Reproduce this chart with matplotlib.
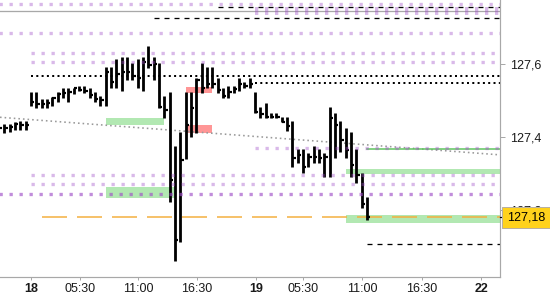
import matplotlib
matplotlib.use("Agg")
import matplotlib.pyplot as plt
import matplotlib.transforms as mtransforms
import numpy as np

plt.rcParams['font.family'] = ['Liberation Sans', 'DejaVu Sans']
plt.rcParams['lines.scale_dashes'] = False

# ---------------- data ----------------
# bar index (30-min slots), high / low / close
bar_idx = list(range(70))
highs = [127.441, 127.436, 127.436, 127.441, 127.444, 127.444,
         127.523, 127.523, 127.504, 127.504, 127.510, 127.523, 127.534, 127.534,
         127.534, 127.540, 127.540, 127.534, 127.523, 127.512, 127.592, 127.592,
         127.614, 127.619, 127.619, 127.603, 127.614, 127.619, 127.649, 127.619,
         127.603, 127.512, 127.523, 127.375, 127.414, 127.523, 127.523, 127.562,
         127.603, 127.592, 127.592, 127.562, 127.534, 127.540, 127.540, 127.562,
         127.551, 127.562, 127.523, 127.482, 127.493, 127.466, 127.466, 127.455,
         127.455, 127.444, 127.367, 127.367, 127.356, 127.375, 127.367, 127.356,
         127.482, 127.466, 127.444, 127.425, 127.414, 127.367, 127.301, 127.236]
lows = [127.400, 127.411, 127.414, 127.419, 127.419, 127.419,
        127.485, 127.479, 127.479, 127.479, 127.485, 127.496, 127.507, 127.496,
        127.518, 127.526, 127.521, 127.507, 127.496, 127.485, 127.485, 127.534,
        127.534, 127.526, 127.556, 127.556, 127.534, 127.526, 127.589, 127.556,
        127.479, 127.452, 127.222, 127.060, 127.112, 127.340, 127.400, 127.411,
        127.521, 127.534, 127.534, 127.521, 127.507, 127.507, 127.521, 127.526,
        127.534, 127.534, 127.466, 127.452, 127.452, 127.452, 127.452, 127.441,
        127.416, 127.318, 127.329, 127.301, 127.318, 127.329, 127.329, 127.290,
        127.290, 127.342, 127.359, 127.342, 127.290, 127.274, 127.205, 127.173]
closes = [127.425, 127.425, 127.427, 127.436, 127.433, 127.433,
          127.496, 127.490, 127.490, 127.493, 127.507, 127.518, 127.521, 127.523,
          127.534, 127.529, 127.526, 127.515, 127.504, 127.501, 127.578, 127.551,
          127.573, 127.578, 127.578, 127.567, 127.562, 127.605, 127.597, 127.600,
          127.482, 127.474, 127.282, 127.118, 127.337, 127.433, 127.479, 127.556,
          127.534, 127.545, 127.545, 127.529, 127.512, 127.523, 127.532, 127.545,
          127.540, 127.545, 127.468, 127.463, 127.455, 127.455, 127.455, 127.441,
          127.430, 127.342, 127.351, 127.318, 127.345, 127.345, 127.342, 127.345,
          127.452, 127.433, 127.392, 127.364, 127.323, 127.296, 127.216, 127.180]

last_price = 127.18

# x-axis ticks (slot positions) and labels
tick_pos = [6.0, 15.2, 26.06, 37.13, 48.2, 57.0, 68.06, 79.3, 90.4]
tick_labels = ['18', '05:30', '11:00', '16:30', '19', '05:30', '11:00', '16:30', '22']
bold_labels = ['18', '19', '22']

y_ticks = [127.2, 127.4, 127.6]
y_tick_labels = ['127,2', '127,4', '127,6']

# horizontal levels: (value, start slot)
lav_levels = [127.764, 127.685, 127.630, 127.605, 127.370, 127.296, 127.271]
lav_starts = [0.0, 0.0, 6.0, 6.0, 48.0, 6.0, 6.0]
lav_ends = [94.0, 94.0, 93.0, 93.0, 94.0, 94.0, 93.0]
lav_thick_level = 127.744
lav_thick_start = 48.0
purple_level = 127.244
gray_level = 127.744

black_dash_levels = [127.756, 127.726, 127.107]
black_dash_starts = [41.0, 29.0, 69.0]
black_dot_levels = [127.567, 127.548]
black_dot_starts = [6.0, 48.0]

trend_x = [0.19, 93.94]
trend_y = [127.454, 127.351]

orange_level = 127.181
orange_start = 8.0

green_line_level = 127.367
green_line_start = 69.0

green_zone_x0 = [20.0, 20.0, 65.0, 65.0]
green_zone_x1 = [30.9, 33.0, 94.0, 94.0]
green_zone_lo = [127.433, 127.233, 127.299, 127.165]
green_zone_hi = [127.452, 127.263, 127.312, 127.186]

red_zone_x0 = [35.0, 35.0]
red_zone_x1 = [39.9, 39.9]
red_zone_lo = [127.521, 127.411]
red_zone_hi = [127.537, 127.433]

# ---------------- figure ----------------
PX = 0.72  # points per pixel at 100 dpi
fig = plt.figure(figsize=(5.5, 3.0), dpi=100)
ax = fig.add_axes([0, 23 / 300, 500 / 550, 277 / 300])
ax.set_xlim(0.19, 93.94)
ax.set_ylim(127.0164, 127.7753)
xmax = 94.0

# zones
for x0, x1, lo, hi in zip(green_zone_x0, green_zone_x1, green_zone_lo, green_zone_hi):
    ax.fill_between([x0, x1], [lo, lo], [hi, hi], color='#b2e8b2', lw=0, zorder=1)
for x0, x1, lo, hi in zip(red_zone_x0, red_zone_x1, red_zone_lo, red_zone_hi):
    ax.fill_between([x0, x1], [lo, lo], [hi, hi], color='#ff9696', lw=0, zorder=1)

# gray solid
ax.hlines(gray_level, 0, xmax, color='#a8a8a8', lw=1.3 * PX, zorder=2)

# trend
ax.plot(trend_x, trend_y, color='#999999', lw=1.6 * PX, dashes=(1.6 * PX, 3 * PX), zorder=2)

# orange dashed
ax.plot([orange_start, xmax], [orange_level] * 2, color='#f4ae3c', lw=1.5 * PX,
        dashes=(25 * PX, 10 * PX), zorder=2)

# green line
ax.plot([green_line_start, xmax], [green_line_level] * 2, color='#5cc45c', lw=1.5 * PX, zorder=2)

# black dashed
for lv, st in zip(black_dash_levels, black_dash_starts):
    ax.plot([st, xmax], [lv, lv], color='black', lw=1.3 * PX, dashes=(5 * PX, 5 * PX), zorder=2)
# black dotted
for lv, st in zip(black_dot_levels, black_dot_starts):
    ax.plot([st, xmax], [lv, lv], color='black', lw=2 * PX, dashes=(2 * PX, 3.3 * PX), zorder=2)

# bars (HLC)
ax.vlines(bar_idx, lows, highs, color='black', lw=2.8 * PX, zorder=3)
ax.hlines(closes, np.array(bar_idx), np.array(bar_idx) + 0.62, color='black', lw=2.2 * PX, zorder=3)

# lavender dotted levels (translucent, on top)
for lv, st, en in zip(lav_levels, lav_starts, lav_ends):
    ax.plot([st, en], [lv, lv], color='#a050c8', alpha=0.4, lw=3.3 * PX,
            dashes=(3.3 * PX, 6.7 * PX), dash_capstyle='butt', zorder=4)
ax.plot([lav_thick_start, xmax], [lav_thick_level] * 2, color='#a050c8', alpha=0.4, lw=8 * PX,
        dashes=(3.3 * PX, 6.7 * PX), dash_capstyle='butt', zorder=4)
ax.plot([0, xmax], [purple_level] * 2, color='#a050c8', alpha=0.65, lw=3.3 * PX,
        dashes=(3.3 * PX, 6.7 * PX), dash_capstyle='butt', zorder=4)

# axes styling
for s in ['left', 'top']:
    ax.spines[s].set_visible(False)
for s in ['right', 'bottom']:
    ax.spines[s].set_color('#a8a8a8')
    ax.spines[s].set_linewidth(1.2 * PX)
ax.yaxis.tick_right()
ax.set_yticks(y_ticks)
ax.set_yticklabels(y_tick_labels)
ax.set_xticks(tick_pos)
ax.set_xticklabels(tick_labels)
ax.tick_params(axis='y', length=5 * PX, width=1 * PX, color='#a8a8a8', pad=3.5, labelsize=9,
               labelcolor='#1a1a1a')
ax.tick_params(axis='x', length=3 * PX, width=1 * PX, color='#a8a8a8', pad=2.5, labelsize=9,
               labelcolor='#1a1a1a')
for lab in ax.get_xticklabels():
    if lab.get_text() in bold_labels:
        lab.set_fontweight('bold')

# last price marker
trans = mtransforms.blended_transform_factory(ax.transAxes, ax.transData)
ax.plot([1.0, 1.013], [last_price, last_price], color='black', lw=1.2 * PX, transform=trans,
        clip_on=False, zorder=5)
ax.text(1.014, last_price, '127,18', transform=trans, ha='left', va='center',
        fontsize=9, color='black', zorder=6, clip_on=False,
        bbox=dict(boxstyle='square,pad=0.38', facecolor='#ffd21c', edgecolor='#b8b0a0', lw=1 * PX))

fig.savefig('out.png', dpi=100)
